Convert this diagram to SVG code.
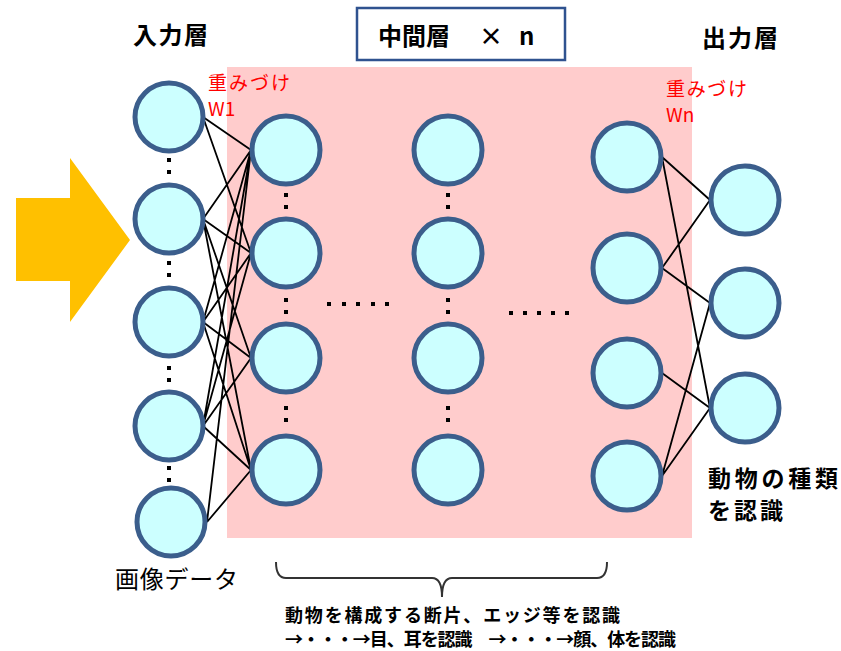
<svg xmlns="http://www.w3.org/2000/svg" width="841" height="651" viewBox="0 0 841 651">
<style>
.node{fill:#CCFFFF;stroke:#3B5E8C;stroke-width:5}
.edge{stroke:#000;stroke-width:1.8;fill:none}
.dot{fill:#000}
.lbl{font-family:"Noto Sans CJK JP","Noto Sans",sans-serif;fill:#000}
.b{font-weight:bold}
.red{fill:#FF0000;font-family:"Noto Sans CJK JP","Noto Sans",sans-serif}
</style>
<defs>
<rect id="d" width="4" height="4" class="dot"/>
</defs>
<rect width="841" height="651" fill="#fff"/>
<rect x="227" y="67" width="465" height="471" fill="#FFCCCC"/>
<polygon points="16,198 70,198 70,158 130,240 70,322 70,281 16,281" fill="#FFC000"/>
<rect x="357" y="8" width="208" height="52" fill="#fff" stroke="#2F528F" stroke-width="2.5"/>
<g id="connectors">
<path class="edge" d="M203,117L251,150M203,117L251,253
M203,219L251,150M203,219L251,253M203,219L251,358M203,219L251,470
M203,322L251,150M203,322L251,253M203,322L251,358M203,322L251,470
M203,426L251,150M203,426L251,253M203,426L251,358M203,426L251,470
M207,522L251,150M207,522L251,470
M662,157L710,200M662,157L710,408
M662,268L710,200M662,268L710,303
M662,373L710,408
M662,476L710,303M662,476L710,408"/>
</g>
<g id="input-layer">
<circle id="in1" class="node" cx="169" cy="117" r="34"/>
<circle id="in2" class="node" cx="169" cy="219" r="34"/>
<circle id="in3" class="node" cx="169" cy="322" r="34"/>
<circle id="in4" class="node" cx="169" cy="426" r="34"/>
<circle id="in5" class="node" cx="171" cy="522" r="34"/>
</g>
<g id="hidden-1">
<circle id="h1a" class="node" cx="286" cy="150" r="34"/>
<circle id="h1b" class="node" cx="286" cy="253" r="34"/>
<circle id="h1c" class="node" cx="286" cy="358" r="34"/>
<circle id="h1d" class="node" cx="286" cy="470" r="34"/>
</g>
<g id="hidden-2">
<circle id="h2a" class="node" cx="448" cy="150" r="34"/>
<circle id="h2b" class="node" cx="448" cy="253" r="34"/>
<circle id="h2c" class="node" cx="448" cy="358" r="34"/>
<circle id="h2d" class="node" cx="448" cy="470" r="34"/>
</g>
<g id="hidden-n">
<circle id="hna" class="node" cx="627" cy="157" r="34"/>
<circle id="hnb" class="node" cx="627" cy="268" r="34"/>
<circle id="hnc" class="node" cx="627" cy="373" r="34"/>
<circle id="hnd" class="node" cx="627" cy="476" r="34"/>
</g>
<g id="output-layer">
<circle id="out1" class="node" cx="745" cy="200" r="34"/>
<circle id="out2" class="node" cx="745" cy="303" r="34"/>
<circle id="out3" class="node" cx="745" cy="408" r="34"/>
</g>
<g id="ellipses">
<use href="#d" x="167" y="158"/><use href="#d" x="167" y="170"/>
<use href="#d" x="167" y="261"/><use href="#d" x="167" y="273"/>
<use href="#d" x="167" y="366"/><use href="#d" x="167" y="378"/>
<use href="#d" x="167" y="466"/><use href="#d" x="167" y="478"/>
<use href="#d" x="284" y="193"/><use href="#d" x="284" y="205"/>
<use href="#d" x="284" y="298"/><use href="#d" x="284" y="310"/>
<use href="#d" x="284" y="406"/><use href="#d" x="284" y="418"/>
<use href="#d" x="446" y="193"/><use href="#d" x="446" y="205"/>
<use href="#d" x="446" y="298"/><use href="#d" x="446" y="310"/>
<use href="#d" x="446" y="406"/><use href="#d" x="446" y="418"/>
<use href="#d" x="327" y="302"/><use href="#d" x="342" y="302"/><use href="#d" x="356" y="302"/><use href="#d" x="371" y="302"/><use href="#d" x="385" y="302"/>
<use href="#d" x="509" y="311"/><use href="#d" x="523" y="311"/><use href="#d" x="537" y="311"/><use href="#d" x="551" y="311"/><use href="#d" x="565" y="311"/>
</g>
<path d="M276,562Q276,578 286,578L432,578Q442,578 442,597Q442,578 452,578L597,578Q607,578 607,562" fill="none" stroke="#333" stroke-width="2"/>
<g id="labels">
<text class="lbl b" x="133" y="44" font-size="24" textLength="75">入力層</text>
<text class="lbl b" x="702" y="47" font-size="24" textLength="76">出力層</text>
<text class="lbl b" font-size="24" y="45"><tspan x="378">中間層</tspan><tspan x="479">×</tspan><tspan x="519">n</tspan></text>
<text class="red" x="208" y="90" font-size="19" textLength="82">重みづけ</text>
<text class="red" x="208" y="116" font-size="19">W1</text>
<text class="red" x="666" y="96" font-size="19" textLength="81">重みづけ</text>
<text class="red" x="666" y="122" font-size="19">Wn</text>
<text class="lbl" x="115" y="588" font-size="24" textLength="123">画像データ</text>
<text class="lbl b" x="708" y="487" font-size="23" textLength="130">動物の種類</text>
<text class="lbl b" x="708" y="519" font-size="23" textLength="75">を認識</text>
<text class="lbl b" x="285" y="622" font-size="18" textLength="335">動物を構成する断片、エッジ等を認識</text>
<text class="lbl b" x="285" y="646" font-size="18" textLength="391">→・・・→目、耳を認識　→・・・→顔、体を認識</text>
</g>
</svg>
